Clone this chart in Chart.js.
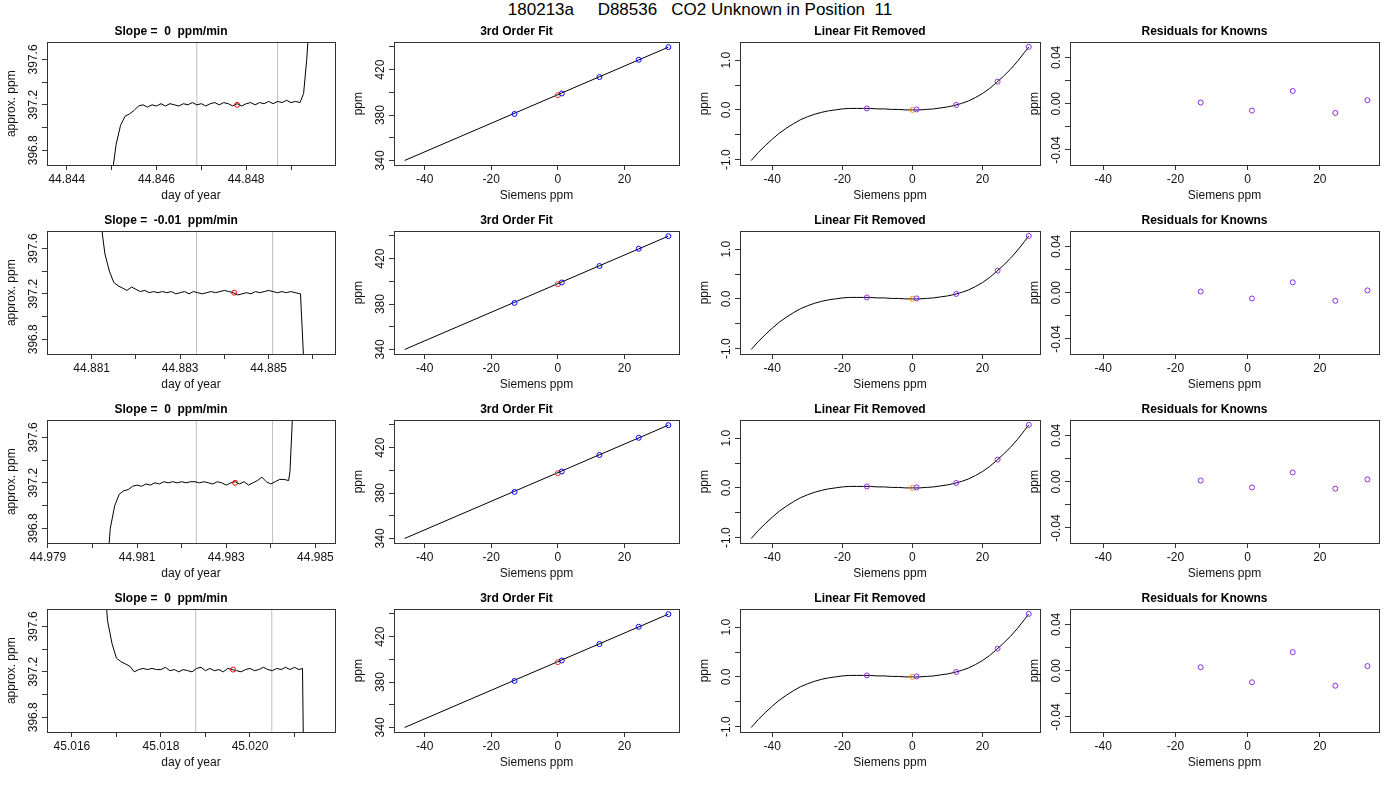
<!DOCTYPE html>
<html>
<head>
<meta charset="utf-8">
<script src="https://cdn.jsdelivr.net/npm/chart.js@4.4.1/dist/chart.umd.min.js"></script>
<style>
  body { margin: 0; background: #fff; font-family: "Liberation Sans", Arial, sans-serif; }
  #page { position: relative; width: 1400px; height: 800px; }
  #mainTitle { position: absolute; left: 0; top: 0; width: 1400px; text-align: center; font-size: 17px; white-space: pre; color: #000; }
  .cell { position: absolute; }
</style>
</head>
<body>
<div id="page">
  <div id="mainTitle">180213a     D88536   CO2 Unknown in Position  11</div>
</div>
<script>
// ---- data ----
const slopeTitles = ['Slope =  0  ppm/min', 'Slope =  -0.01  ppm/min', 'Slope =  0  ppm/min', 'Slope =  0  ppm/min'];

// x-axis limits and ticks of the time panels
const timeLimits = [[44.84356, 44.84998], [44.87999, 44.88650], [44.97898, 44.98544], [45.01544, 45.02191]];
const timeTicks = [
  [44.844, 44.845, 44.846, 44.847, 44.848, 44.849],
  [44.881, 44.882, 44.883, 44.884, 44.885, 44.886],
  [44.979, 44.980, 44.981, 44.982, 44.983, 44.984, 44.985],
  [45.016, 45.017, 45.018, 45.019, 45.020, 45.021]
];
const ppmTicks = [396.8, 397.0, 397.2, 397.4, 397.6];
const ppmLimits = [396.67, 397.75];

// grey averaging window lines and red average point
const windowLines = [[44.8469, 44.8487], [44.88337, 44.88509], [44.98233, 44.98404], [45.01878, 45.02049]];
const avgPoints = [[44.8478, 397.20], [44.88422, 397.21], [44.98320, 397.20], [45.01962, 397.22]];

const trace1 = [[44.8450,396.55],[44.8451,396.85],[44.8452,397.02],[44.8453,397.10],[44.8454,397.12],[44.8455,397.15],
  [44.8456,397.19],[44.8457,397.20],[44.8458,397.18],[44.8459,397.20],[44.8460,397.19],[44.8461,397.21],[44.8462,397.19],
  [44.8463,397.21],[44.8464,397.20],[44.8465,397.19],[44.8466,397.21],[44.8467,397.20],[44.8468,397.22],[44.8469,397.20],
  [44.8470,397.21],[44.8471,397.19],[44.8472,397.21],[44.8473,397.22],[44.8474,397.20],[44.8475,397.22],[44.8476,397.21],
  [44.8477,397.19],[44.8478,397.21],[44.8479,397.19],[44.8480,397.21],[44.8481,397.22],[44.8482,397.20],[44.8483,397.22],
  [44.8484,397.21],[44.8485,397.23],[44.8486,397.21],[44.8487,397.23],[44.8488,397.22],[44.8489,397.24],[44.8490,397.22],
  [44.8491,397.23],[44.8492,397.22],[44.84928,397.30],[44.84935,397.60],[44.8494,397.90]];
const trace2 = [[44.8812,397.90],[44.88125,397.70],[44.8813,397.55],[44.8814,397.40],[44.8815,397.30],[44.8816,397.27],
  [44.8817,397.25],[44.8818,397.23],[44.8819,397.26],[44.8820,397.24],[44.8821,397.22],[44.8822,397.23],[44.8823,397.21],
  [44.8824,397.22],[44.8825,397.21],[44.8826,397.22],[44.8827,397.21],[44.8828,397.22],[44.8829,397.20],[44.8830,397.21],
  [44.8831,397.22],[44.8832,397.20],[44.8833,397.22],[44.8834,397.21],[44.8835,397.20],[44.8836,397.21],[44.8837,397.22],
  [44.8838,397.21],[44.8839,397.22],[44.8840,397.23],[44.8841,397.22],[44.8842,397.21],[44.8843,397.19],[44.8844,397.20],
  [44.8845,397.21],[44.8846,397.20],[44.8847,397.22],[44.8848,397.21],[44.8849,397.22],[44.8850,397.23],[44.8851,397.22],
  [44.8852,397.21],[44.8853,397.22],[44.8854,397.21],[44.8855,397.22],[44.8856,397.21],[44.88572,397.20],[44.8858,396.55]];
const trace3 = [[44.98035,396.55],[44.9804,396.80],[44.9805,397.00],[44.9806,397.10],[44.9807,397.13],[44.9808,397.14],
  [44.9809,397.17],[44.9810,397.18],[44.9811,397.17],[44.9812,397.19],[44.9813,397.18],[44.9814,397.20],[44.9815,397.19],
  [44.9816,397.21],[44.9817,397.20],[44.9818,397.21],[44.9819,397.20],[44.9820,397.21],[44.9821,397.20],[44.9822,397.21],
  [44.9823,397.21],[44.9824,397.20],[44.9825,397.21],[44.9826,397.20],[44.9827,397.19],[44.9828,397.21],[44.9829,397.20],
  [44.9830,397.18],[44.9831,397.20],[44.9832,397.21],[44.9833,397.19],[44.9834,397.21],[44.9835,397.18],[44.9836,397.20],
  [44.9837,397.22],[44.9838,397.25],[44.9839,397.21],[44.9840,397.19],[44.9841,397.21],[44.9842,397.23],[44.9843,397.23],
  [44.9844,397.22],[44.98443,397.30],[44.9845,397.90]];
const trace4 = [[45.01675,397.90],[45.0168,397.65],[45.0169,397.45],[45.0170,397.32],[45.0171,397.29],[45.0172,397.27],
  [45.0173,397.25],[45.0174,397.20],[45.0175,397.22],[45.0176,397.23],[45.0177,397.22],[45.0178,397.23],[45.0179,397.22],
  [45.0180,397.22],[45.0181,397.24],[45.0182,397.21],[45.0183,397.22],[45.0184,397.20],[45.0185,397.22],[45.0186,397.21],
  [45.0187,397.20],[45.0188,397.23],[45.0189,397.24],[45.0190,397.21],[45.0191,397.23],[45.0192,397.21],[45.0193,397.22],
  [45.0194,397.20],[45.0195,397.23],[45.0196,397.22],[45.0197,397.21],[45.0198,397.20],[45.0199,397.22],[45.0200,397.23],
  [45.0201,397.21],[45.0202,397.22],[45.0203,397.24],[45.0204,397.22],[45.0205,397.21],[45.0206,397.23],[45.0207,397.22],
  [45.0208,397.24],[45.0209,397.22],[45.0210,397.24],[45.0211,397.22],[45.02118,397.23],[45.0212,396.55]];
const traces = [trace1, trace2, trace3, trace4];

// standards (Siemens ppm) and fits
const knownX = [-13.0, 1.2, 12.5, 24.3, 33.2];
const knownPpm = [381.0, 399.0, 413.5, 428.7, 439.8];
const unknownPt = [0.0, 397.5];
const fitLineX = [-46.0, 33.2];
const fitLinePpm = [340.0, 439.8];
const sieTicks = [-40, -20, 0, 20];
const sieLimits = [-49.2, 36.4];
const fitTicks = [340, 360, 380, 400, 420, 440];

const knownResid = [0.03, 0.01, 0.10, 0.57, 1.27];
const unknownResid = [0.0, 0.0];
const cubicX = [-46, -44, -42, -40, -38, -36, -34, -32, -30, -28, -26, -24, -22, -20, -18, -16, -14, -12, -10, -8, -6, -4, -2, 0,
  2, 4, 6, 8, 10, 12, 14, 16, 18, 20, 22, 24, 26, 28, 30, 32, 33.2];
const cubicY = [-1.02, -0.86, -0.72, -0.59, -0.47, -0.37, -0.28, -0.20, -0.14, -0.09, -0.05, -0.02, 0.00, 0.02, 0.03, 0.03,
  0.03, 0.03, 0.02, 0.02, 0.01, 0.01, 0.00, 0.00, 0.00, 0.01, 0.02, 0.04, 0.06, 0.09, 0.13, 0.18, 0.25, 0.33, 0.43, 0.55,
  0.68, 0.82, 0.98, 1.16, 1.27];
const linTicks = [-1.0, -0.5, 0.0, 0.5, 1.0];

const residRows = [
  [0.001, -0.006, 0.011, -0.008, 0.003],
  [0.001, -0.005, 0.009, -0.007, 0.002],
  [0.001, -0.005, 0.008, -0.006, 0.002],
  [0.003, -0.010, 0.016, -0.013, 0.004]
];
const residTicks = [-0.04, -0.02, 0.00, 0.02, 0.04];

// ---- layout ----
const colCells = [[0, 340], [347, 337], [693, 352], [1023, 361]];
const rowTop = r => 22 + 189 * r;
const FONT = 'Liberation Sans';

// R-style box round the plot region, and y labels centred on their ticks, reading upwards
const boxPlugin = {
  id: 'box',
  afterDraw(chart) {
    const a = chart.chartArea, c = chart.ctx;
    c.save();
    c.strokeStyle = '#333';
    c.lineWidth = 1;
    c.strokeRect(Math.round(a.left) + 0.5, Math.round(a.top) + 0.5, Math.round(a.right - a.left), Math.round(a.bottom - a.top));
    const y = chart.scales.y;
    c.fillStyle = '#111';
    c.font = '12px "' + FONT + '"';
    c.textAlign = 'center';
    c.textBaseline = 'bottom';
    y.ticks.forEach(t => {
      if (!t.label) return;
      c.save();
      c.translate(a.left - 7, y.getPixelForValue(t.value));
      c.rotate(-Math.PI / 2);
      c.fillText(t.label, 0, 0);
      c.restore();
    });
    c.restore();
  }
};

function axis(ticksArr, lim, title, fmt, isX, everyOther) {
  return {
    type: 'linear',
    min: lim[0], max: lim[1],
    afterBuildTicks: s => { s.ticks = ticksArr.map(v => ({ value: v })); },
    afterFit: s => { if (isX) s.height = 40; else s.width = 43; },
    grid: { display: true, drawOnChartArea: false, drawTicks: true, tickLength: 5, color: '#333' },
    border: { display: false },
    ticks: {
      autoSkip: false,
      color: isX ? '#111' : 'rgba(0,0,0,0)',
      font: { family: FONT, size: 12 },
      padding: 2,
      maxRotation: 0,
      callback: (v, i) => (everyOther && i % 2) ? '' : fmt(v)
    },
    title: { display: true, text: title, color: '#111', font: { family: FONT, size: 12 }, padding: isX ? 2 : 0 }
  };
}

function panel(r, c, title, datasets, xScale, yScale) {
  const div = document.createElement('div');
  div.className = 'cell';
  div.style.left = colCells[c][0] + 'px';
  div.style.top = rowTop(r) + 'px';
  div.style.width = colCells[c][1] + 'px';
  div.style.height = '189px';
  const cv = document.createElement('canvas');
  div.appendChild(cv);
  document.getElementById('page').appendChild(div);
  new Chart(cv, {
    type: 'scatter',
    data: { datasets },
    options: {
      responsive: true, maintainAspectRatio: false, animation: false,
      layout: { padding: { top: 2, left: 4, right: 2, bottom: 6 } },
      plugins: {
        legend: { display: false }, tooltip: { enabled: false },
        title: { display: true, text: title, color: '#000', font: { family: FONT, size: 12, weight: 'bold' }, padding: { top: 0, bottom: 4 } }
      },
      scales: { x: xScale, y: yScale }
    },
    plugins: [boxPlugin]
  });
}

const pts = (xs, ys) => xs.map((x, i) => ({ x, y: ys[i] }));
const circle = (data, color) => ({ type: 'scatter', data, pointStyle: 'circle', pointRadius: 2.5, borderWidth: 1,
  pointBorderColor: color, pointBackgroundColor: 'rgba(0,0,0,0)', order: 1 });
const line = (data, color, order) => ({ type: 'line', data, borderColor: color, borderWidth: 1, pointRadius: 0, tension: 0, fill: false, order });

for (let r = 0; r < 4; r++) {
  // time series panel
  const ds = windowLines[r].map(v => line([{ x: v, y: ppmLimits[0] }, { x: v, y: ppmLimits[1] }], '#bebebe', 3));
  ds.push(line(traces[r].map(p => ({ x: p[0], y: p[1] })), '#000', 2));
  ds.push(circle([{ x: avgPoints[r][0], y: avgPoints[r][1] }], '#ff0000'));
  panel(r, 0, slopeTitles[r], ds,
    axis(timeTicks[r], timeLimits[r], 'day of year', v => v.toFixed(3), true, true),
    axis(ppmTicks, ppmLimits, 'approx. ppm', v => v.toFixed(1), false, true));

  // 3rd order fit
  panel(r, 1, '3rd Order Fit', [
    line(pts(fitLineX, fitLinePpm), '#000', 2),
    circle(pts(knownX, knownPpm), '#0000ff'),
    circle([{ x: unknownPt[0], y: unknownPt[1] }], '#ff3030')
  ], axis(sieTicks, sieLimits, 'Siemens ppm', v => String(v), true, false),
     axis(fitTicks, [336, 444], 'ppm', v => String(v), false, true));

  // linear fit removed
  panel(r, 2, 'Linear Fit Removed', [
    line(pts(cubicX, cubicY), '#000', 2),
    circle(pts(knownX, knownResid), '#8a2be2'),
    circle([{ x: unknownResid[0], y: unknownResid[1] }], '#ff8c00')
  ], axis(sieTicks, sieLimits, 'Siemens ppm', v => String(v), true, false),
     axis(linTicks, [-1.11, 1.36], 'ppm', v => v.toFixed(1), false, true));

  // residuals
  panel(r, 3, 'Residuals for Knowns', [
    circle(pts(knownX, residRows[r]), '#8a2be2')
  ], axis(sieTicks, sieLimits, 'Siemens ppm', v => String(v), true, false),
     axis(residTicks, [-0.053, 0.053], 'ppm', v => v.toFixed(2), false, true));
}
</script>
</body>
</html>
